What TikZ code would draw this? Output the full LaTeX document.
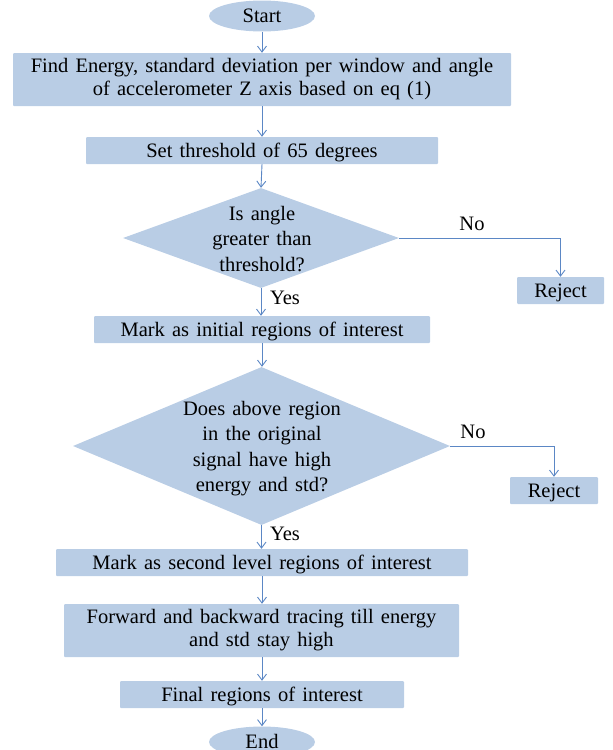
\documentclass[tikz,border=0pt]{standalone}
\usepackage{fontspec}
\setmainfont[WordSpace=1.4]{Liberation Serif}
\usetikzlibrary{shapes.geometric,arrows.meta}
\definecolor{boxfill}{HTML}{B9CDE5}
\definecolor{arrcol}{HTML}{5B87C5}
\tikzset{
  x=1pt,y=-1pt,
  every node/.style={font=\fontsize{20.5}{23}\selectfont, text=black},
  procbox/.style={rectangle, rounded corners=1pt, fill=boxfill, inner sep=0pt, align=center},
  oneline/.style={text height=17.5pt, text depth=4.4pt},
  termin/.style={ellipse, fill=boxfill, inner sep=0pt, oneline},
  decis/.style={diamond, fill=boxfill, inner sep=0pt},
  dtext/.style={align=center, inner sep=0pt, font=\fontsize{20.5}{25.5}\selectfont},
  arr/.style={draw=arrcol, line width=0.9pt, -{Straight Barb[length=6pt,width=9pt,line width=0.9pt]}},
  lab/.style={inner sep=0pt}
}
\begin{document}
\begin{tikzpicture}
\useasboundingbox (0,0) rectangle (613,750);
\clip (0,0) rectangle (613,750);
\node[termin, minimum width=106, minimum height=26] (start) at (262,16) {Start};
\node[procbox, minimum width=498, minimum height=53] (b1) at (262,79.5) {Find Energy, standard deviation per window and angle\\of accelerometer Z axis based on eq (1)};
\node[procbox, oneline, minimum width=352, minimum height=27] (b2) at (262,150.5) {Set threshold of 65 degrees};
\node[decis, minimum width=276, minimum height=100] (d1) at (261,238) {};
\node[dtext] (d1t) at (262,239) {Is angle\\greater than\\threshold?};
\node[procbox, oneline, minimum width=87, minimum height=27] (r1) at (560.5,290.5) {Reject};
\node[procbox, oneline, minimum width=336, minimum height=27] (b3) at (262,329.5) {Mark as initial regions of interest};
\node[decis, minimum width=377, minimum height=158] (d2) at (261.5,446) {};
\node[dtext] (d2t) at (262,448.5) {Does above region\\in the original\\signal have high\\energy and std?};
\node[procbox, oneline, minimum width=88, minimum height=27] (r2) at (554,490.5) {Reject};
\node[procbox, oneline, minimum width=412, minimum height=27] (b4) at (262,562.5) {Mark as second level regions of interest};
\node[procbox, minimum width=395, minimum height=53] (b5) at (261.5,630.5) {Forward and backward tracing till energy\\and std stay high};
\node[procbox, oneline, minimum width=284, minimum height=27] (b6) at (262,694.5) {Final regions of interest};
\node[termin, minimum width=106, minimum height=26] (end) at (262,742) {End};
\node[lab] (no1) at (472,224) {No};
\node[lab] (no2) at (473,432) {No};
\node[lab] (yes1) at (285,298) {Yes};
\node[lab] (yes2) at (285,534) {Yes};
\draw[arr] (start) -- (b1);
\draw[arr] (b1) -- (b2);
\draw[arr] (b2.south) -- (d1.north);
\draw[arr] (d1.south) -- (d1.south |- b3.north);
\draw[arr] (d1.east) -| (r1.north);
\draw[arr] (b3.south) -- (b3.south |- d2.north);
\draw[arr] (d2.south) -- (d2.south |- b4.north);
\draw[arr] (d2.east) -| (r2.north);
\draw[arr] (b4) -- (b4.south |- b5.north);
\draw[arr] (b5.south -| b6.north) -- (b6.north);
\draw[arr] (b6) -- (end);
\end{tikzpicture}
\end{document}
